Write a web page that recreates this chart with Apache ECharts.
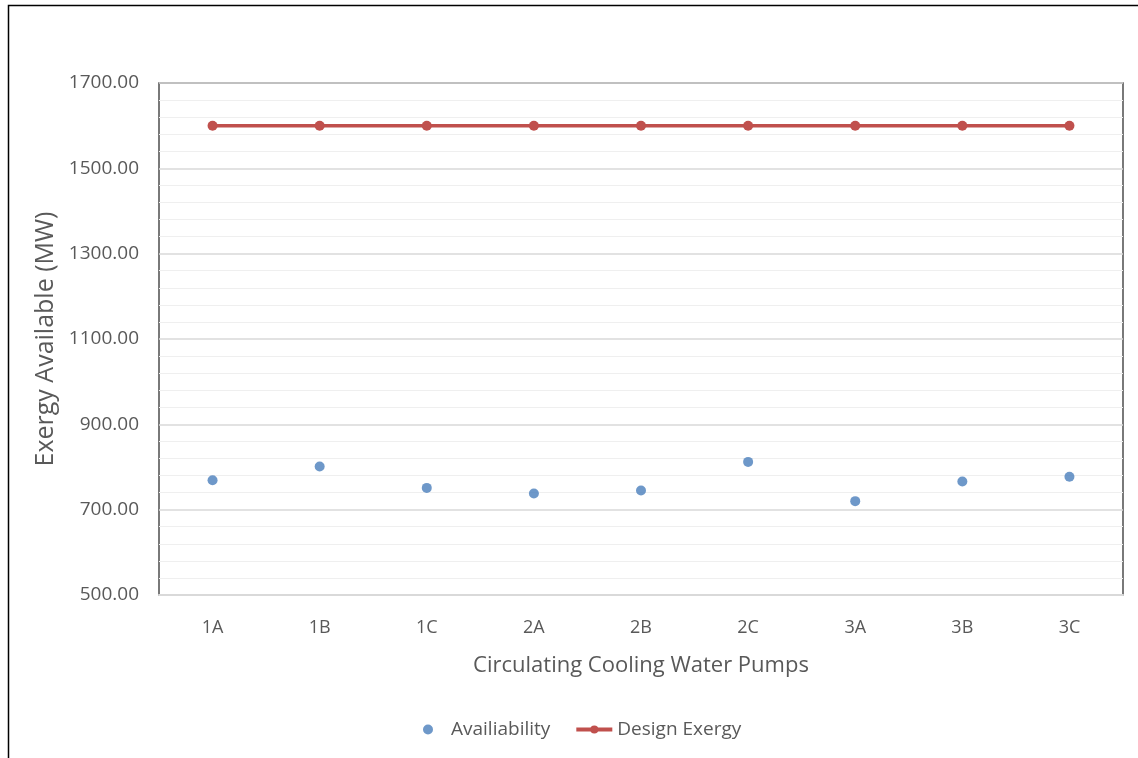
<!DOCTYPE html>
<html>
<head>
<meta charset="utf-8">
<script src="https://cdn.jsdelivr.net/npm/echarts@6/dist/echarts.min.js"></script>
<style>
html,body{margin:0;padding:0;background:#fff;}
#chart{width:1138px;height:758px;}
</style>
</head>
<body>
<div id="chart"></div>
<script>
const categories = ['1A','1B','1C','2A','2B','2C','3A','3B','3C'];
const availability = [769, 801, 751, 738, 745, 812, 720, 766, 777];
const designExergy = [1600, 1600, 1600, 1600, 1600, 1600, 1600, 1600, 1600];
const yTicks = [500, 700, 900, 1100, 1300, 1500, 1700];

const FONT = '"Open Sans", "Liberation Sans", sans-serif';
const chart = echarts.init(document.getElementById('chart'), null, {renderer:'canvas'});
chart.setOption({
  backgroundColor: '#fff',
  animation: false,
  graphic: [{
    type: 'rect', shape: {x: 8.5, y: 5.5, width: 1200, height: 800},
    style: {fill: 'none', stroke: '#000', lineWidth: 1.5}, z: 100
  }],
  grid: {left: 159, right: 15, top: 83, bottom: 163, show: true, borderColor: '#4d4d4d', borderWidth: 1.5, backgroundColor: '#fff'},
  legend: {
    bottom: 14, left: 418, itemGap: 24, itemWidth: 36, itemHeight: 10,
    textStyle: {fontFamily: FONT, fontSize: 19, color: '#595959'},
    data: [
      {name: 'Availiability'},
      {name: 'Design Exergy', lineStyle: {width: 4}}
    ]
  },
  xAxis: {
    type: 'category', data: categories, boundaryGap: true,
    name: 'Circulating Cooling Water Pumps', nameLocation: 'middle', nameGap: 60,
    nameTextStyle: {fontFamily: FONT, fontSize: 22, color: '#595959'},
    axisLine: {show: true, lineStyle: {color: '#d9d9d9', width: 2}},
    axisTick: {show: false},
    axisLabel: {fontFamily: FONT, fontSize: 18, color: '#595959', margin: 24}
  },
  yAxis: {
    type: 'value', min: yTicks[0], max: yTicks[yTicks.length-1], interval: 200,
    name: 'Exergy Available (MW)', nameLocation: 'middle', nameGap: 98,
    nameTextStyle: {fontFamily: FONT, fontSize: 25, color: '#595959'},
    axisLine: {show: false}, axisTick: {show: false},
    axisLabel: {fontFamily: FONT, fontSize: 19, color: '#595959', margin: 20, formatter: v => v.toFixed(2)},
    splitLine: {show: true, lineStyle: {color: '#d9d9d9', width: 1.5}},
    minorTick: {show: false, splitNumber: 5},
    minorSplitLine: {show: true, lineStyle: {color: '#efefef', width: 1.2}}
  },
  series: [
    {
      name: 'Availiability', type: 'scatter', data: availability,
      symbol: 'circle', symbolSize: 10,
      itemStyle: {color: '#4a7ebb'}
    },
    {
      name: 'Design Exergy', type: 'line', data: designExergy,
      symbol: 'circle', symbolSize: 10, showSymbol: true,
      lineStyle: {color: '#c0504d', width: 3.5},
      itemStyle: {color: '#c0504d'}
    }
  ]
});
</script>
</body>
</html>
